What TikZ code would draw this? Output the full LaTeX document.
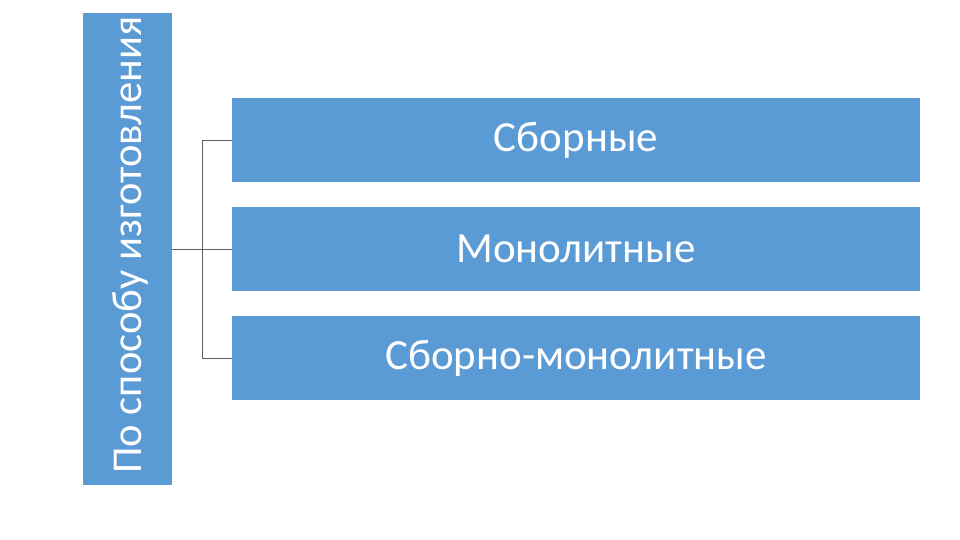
\documentclass[tikz,border=0pt]{standalone}
\usepackage{fontspec}
\setmainfont{Carlito}
\definecolor{boxblue}{HTML}{5B9BD5}
\definecolor{linegray}{HTML}{5F5F5F}
\begin{document}
\begin{tikzpicture}[x=1pt,y=1pt,
  catbox/.style={fill=boxblue,draw=none,inner sep=0pt,minimum width=688pt,minimum height=84pt,text=white,font=\fontsize{43}{47}\selectfont},
  sidebox/.style={fill=boxblue,draw=none,inner sep=0pt,minimum width=89pt,minimum height=472pt},
  conn/.style={draw=linegray,line width=0.9pt}]
\useasboundingbox (0,0) rectangle (960,540);
\fill[white] (0,0) rectangle (960,540);
\node[sidebox] (side) at (127.5,291) {};
\node[rotate=90,anchor=base west,text=white,font=\fontsize{42.5}{46}\selectfont] (sidetext) at (141,63) {По способу изготовления};
\node[catbox] (b1) at (576,400) {Сборные};
\node[catbox] (b2) at (576,291) {Монолитные};
\node[catbox] (b3) at (576,182) {Сборно-монолитные};
\coordinate (j) at (202,291);
\draw[conn] (b1.west) -- (b1.west -| j) -- (b3.west -| j) -- (b3.west);
\draw[conn] (side.east |- b2.west) -- (b2.west);
\end{tikzpicture}
\end{document}
